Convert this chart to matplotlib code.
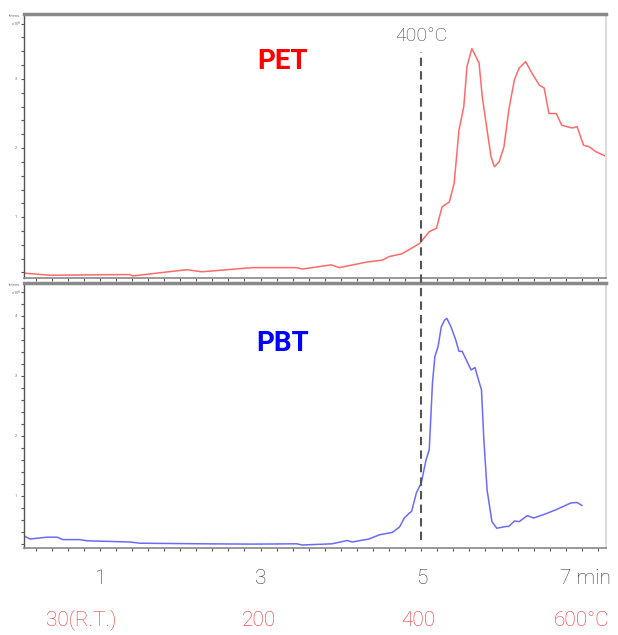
import numpy as np
import matplotlib
matplotlib.use("Agg")
import matplotlib.pyplot as plt
import matplotlib.transforms as mtransforms
from matplotlib.lines import Line2D

plt.rcParams['font.family'] = ['Roboto', 'DejaVu Sans']

# PET trace (time in min, intensity x10^8)
pet_t = [0.06, 0.38, 1.37, 1.41, 2.08, 2.27, 2.90, 3.45, 3.52, 3.88, 3.98, 4.32,
         4.52, 4.60, 4.76, 4.98, 5.10, 5.19, 5.26, 5.35, 5.41, 5.47, 5.53, 5.57,
         5.63, 5.72, 5.76, 5.82, 5.87, 5.91, 5.97, 6.03, 6.09, 6.16, 6.22, 6.30,
         6.38, 6.47, 6.53, 6.59, 6.68, 6.75, 6.88, 6.94, 7.02, 7.09, 7.17, 7.30]
pet_i = [0.19, 0.16, 0.17, 0.15, 0.24, 0.21, 0.27, 0.27, 0.25, 0.31, 0.27, 0.35,
         0.38, 0.43, 0.47, 0.62, 0.79, 0.84, 1.15, 1.22, 1.49, 2.26, 2.60, 3.18,
         3.44, 3.23, 2.74, 2.26, 1.87, 1.73, 1.80, 2.02, 2.55, 2.99, 3.16, 3.25,
         3.08, 2.91, 2.87, 2.50, 2.50, 2.33, 2.29, 2.31, 2.04, 2.02, 1.95, 1.88]

# PBT trace
pbt_t = [0.06, 0.13, 0.34, 0.47, 0.54, 0.75, 0.84, 1.12, 1.37, 1.50, 2.28, 2.90,
         3.45, 3.52, 3.89, 4.08, 4.14, 4.35, 4.48, 4.64, 4.73, 4.79, 4.85, 4.88,
         4.94, 5.00, 5.06, 5.10, 5.14, 5.17, 5.21, 5.25, 5.29, 5.32, 5.37, 5.43,
         5.47, 5.51, 5.56, 5.62, 5.67, 5.70, 5.75, 5.78, 5.82, 5.88, 5.94, 6.06,
         6.09, 6.16, 6.22, 6.32, 6.40, 6.55, 6.68, 6.78, 6.86, 6.94, 7.00]
pbt_i = [0.33, 0.28, 0.31, 0.31, 0.27, 0.27, 0.25, 0.24, 0.23, 0.21, 0.20, 0.195,
         0.20, 0.18, 0.20, 0.255, 0.23, 0.28, 0.35, 0.39, 0.48, 0.63, 0.71, 0.74,
         1.05, 1.21, 1.60, 1.77, 2.88, 3.32, 3.49, 3.82, 3.93, 3.96, 3.82, 3.60,
         3.41, 3.41, 3.27, 3.10, 3.14, 2.99, 2.77, 1.93, 1.10, 0.57, 0.46, 0.49,
         0.49, 0.58, 0.57, 0.67, 0.63, 0.70, 0.77, 0.83, 0.88, 0.89, 0.84]

time_labels = ['1', '3', '5', '7 min']
temp_labels = ['30(R.T.)', '200', '400', '600°C']

fig = plt.figure(figsize=(6.18, 6.35), dpi=100)
ax1 = fig.add_axes([24/618, 1-278/635, 582/618, 264/635])
ax2 = fig.add_axes([24/618, 1-548/635, 582/618, 265/635])

ax1.plot(pet_t, pet_i, color='#ff6a6a', lw=1.1)
ax2.plot(pbt_t, pbt_i, color='#6a6aff', lw=1.1)

ax1.set_ylim(0.12, 3.94)
ax2.set_ylim(0.13, 4.55)

for ax, nums in [(ax1, [1, 2, 3]), (ax2, [1, 2, 3, 4])]:
    ax.set_xlim(0.056, 7.3)
    ax.set_xticks(np.arange(0.2, 7.3, 0.2))
    ax.set_xticklabels([])
    ax.set_yticks(np.arange(0.2, ax.get_ylim()[1], 0.2))
    ax.set_yticklabels([])
    ax.tick_params(axis='both', length=2, width=0.8, color='#555555')
    ax.spines['left'].set_color('#555555')
    ax.spines['left'].set_linewidth(1)
    ax.spines['bottom'].set_color('#888888')
    ax.spines['bottom'].set_linewidth(1.2)
    ax.spines['top'].set_color('#8a8a8a')
    ax.spines['top'].set_linewidth(2.5)
    ax.spines['right'].set_color('#dddddd')
    ax.spines['right'].set_linewidth(1.5)
    for n in nums:
        ax.text(-0.012, n, str(n), transform=ax.get_yaxis_transform(),
                fontsize=3, color='#777777', ha='right', va='center')
    ax.text(-0.005, 1.0, 'Intens.\nx10$^8$', transform=ax.transAxes,
            fontsize=3, color='#777777', ha='right', va='top')

ax1.text(0.445, 0.82, 'PET', transform=ax1.transAxes, color='#ff0000',
         fontsize=20, fontweight='bold', ha='center', va='center')
ax2.text(0.445, 0.77, 'PBT', transform=ax2.transAxes, color='#0000ff',
         fontsize=20, fontweight='bold', ha='center', va='center')

# dashed marker at 400°C spanning both panels
trans = mtransforms.blended_transform_factory(ax1.transData, fig.transFigure)
fig.add_artist(Line2D([5.0, 5.0], [1-540/635, 1-52/635], transform=trans,
                      color='#555555', lw=1.5, ls=(0, (4, 2.5))))
fig.text(5.0, 1-36/635, '400°C', transform=trans, fontsize=14,
         color='#444444', ha='center', va='center', fontweight='light')

# label rows under the axis (pixel positions of the reference)
time_x = [100, 261, 422, 585]
temp_x = [81, 259, 418, 582]
for xp, lab in zip(time_x, time_labels):
    fig.text(xp/618, 1-578/635, lab, fontsize=15, color='#333333',
             ha='center', va='center', fontweight='light')
for xp, lab in zip(temp_x, temp_labels):
    fig.text(xp/618, 1-620/635, lab, fontsize=15, color='#f03030',
             ha='center', va='center', fontweight='light')

fig.savefig('out.png', dpi=100)
